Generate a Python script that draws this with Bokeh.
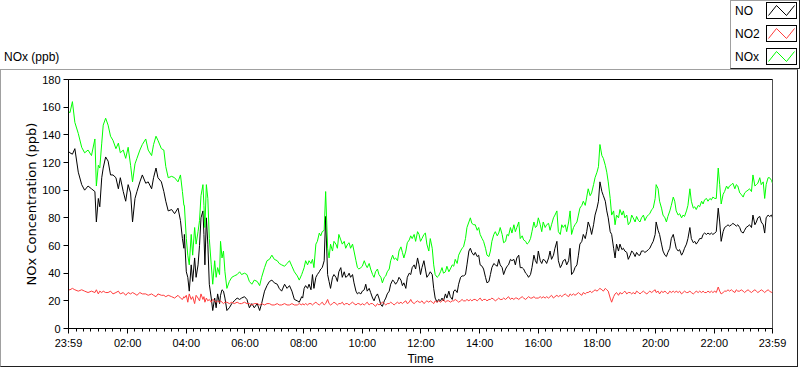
from bokeh.plotting import figure
from bokeh.layouts import column
from bokeh.models import FixedTicker, Span, Div
from bokeh.embed import file_html
from bokeh.resources import INLINE

# ---------------- data (minutes after midnight; -1 = 23:59 previous day) ----------------
minutes = [
    -1, 2, 7, 12, 19, 26, 32, 39, 46, 53, 56, 60, 63, 67, 70, 75, 80, 85, 90, 96,
    101, 105, 111, 116, 121, 126, 130, 135, 139, 145, 150, 157, 162, 169, 173, 178, 182, 189, 194, 198,
    203, 210, 216, 223, 228, 232, 235,
    236, 240, 243, 246, 250, 253, 257, 260, 264, 267, 270, 274, 276, 278, 281, 284, 287, 291, 294, 298,
    301, 304, 308, 310, 313, 316, 319, 323, 328, 333, 338, 344, 349, 353, 359, 364, 369, 374, 379, 385,
    390, 394, 400, 405, 410, 415, 420, 426, 430, 435, 441, 446, 451, 456, 461, 467, 471, 476,
    478, 481, 484, 488, 491, 495, 498, 501, 505, 508, 512, 515, 518, 522, 525, 529, 532, 535, 539, 542,
    546, 549, 552, 556, 559, 563, 566, 570, 573, 576, 580, 583, 587, 590, 593, 597, 600, 604, 607, 610,
    614, 617, 621, 624, 627, 631, 634, 638, 641, 645, 648, 651, 655, 658, 662, 665, 668, 672, 675, 679,
    682, 685, 689, 692, 696, 699, 702, 706, 709, 713, 716,
    719, 722, 726, 729, 732, 736, 739, 743, 746, 749, 753, 756, 760, 763, 766, 770, 773, 777, 780, 784,
    787, 790, 794, 797, 801, 804, 807, 811, 814, 818, 821, 824, 828, 831, 835, 838, 841, 845, 848, 852,
    855, 859, 862, 865, 869, 872, 876, 879, 882, 886, 889, 893, 896, 899, 903, 906, 910, 913, 916, 920,
    923, 927, 930, 934, 937, 940, 944, 947, 951, 954, 957,
    960, 964, 967, 970, 974, 977, 981, 984, 987, 991, 994, 998, 1001, 1005, 1008, 1011, 1015, 1018, 1022, 1025,
    1028, 1032, 1035, 1039, 1042, 1045, 1049, 1052, 1056, 1059, 1062, 1066, 1069, 1073, 1076, 1080, 1083, 1086, 1090, 1093,
    1097, 1100, 1103, 1107, 1110, 1114, 1117, 1120, 1124, 1127, 1131, 1134, 1137, 1141, 1144, 1148, 1151, 1154, 1158, 1161,
    1165, 1168, 1171, 1175, 1178, 1182, 1185, 1188, 1192, 1195, 1199,
    1201, 1205, 1208, 1212, 1215, 1219, 1222, 1225, 1229, 1232, 1236, 1239, 1242, 1246, 1249, 1253, 1256, 1259, 1263, 1266,
    1270, 1273, 1277, 1280, 1283, 1287, 1290, 1294, 1297, 1300, 1304, 1307, 1311, 1314, 1317, 1321, 1324, 1328, 1331, 1334,
    1338, 1341, 1345, 1348, 1351, 1355, 1358, 1362, 1365, 1368, 1372, 1375, 1379, 1382, 1385, 1389, 1392, 1396, 1399, 1403,
    1406, 1409, 1413, 1416, 1420, 1423, 1426, 1430, 1433, 1437, 1439,
]

no_ppb = [
    128, 127, 126, 130, 113, 104, 100, 103, 101, 99, 77, 94, 88, 109, 116, 124, 121, 111, 111, 109,
    101, 109, 99, 92, 104, 98, 77, 94, 99, 106, 111, 105, 106, 101, 109, 116, 109, 106, 99, 92,
    85, 86, 83, 87, 78, 65, 58,
    68, 41, 37, 27, 46, 34, 51, 37, 46, 60, 80, 85, 68, 46, 80, 61, 32, 22, 13, 22,
    15, 25, 18, 24, 28, 27, 22, 13, 15, 18, 20, 22, 21, 22, 23, 21, 15, 18, 15, 18,
    13, 18, 27, 31, 34, 35, 33, 32, 29, 27, 32, 29, 31, 27, 21, 20, 19, 23,
    22, 29, 31, 29, 32, 28, 39, 29, 37, 39, 41, 43, 44, 49, 81, 39, 34, 29, 37, 39,
    37, 34, 41, 44, 37, 41, 37, 38, 40, 37, 39, 33, 27, 25, 26, 25, 27, 28, 32, 27,
    29, 26, 22, 20, 23, 25, 22, 17, 16, 20, 22, 25, 27, 32, 35, 34, 32, 34, 37, 35,
    31, 33, 29, 37, 40, 39, 44, 46, 43, 51, 46,
    39, 44, 49, 43, 37, 39, 41, 39, 29, 22, 19, 21, 20, 22, 20, 25, 22, 27, 23, 21,
    27, 28, 26, 32, 37, 38, 38, 39, 46, 56, 58, 55, 53, 55, 52, 53, 46, 45, 43, 37,
    33, 34, 39, 44, 47, 46, 45, 50, 46, 44, 39, 43, 45, 46, 50, 49, 50, 46, 51, 53,
    44, 44, 43, 40, 39, 37, 39, 44, 53, 49, 47,
    56, 49, 47, 50, 49, 47, 51, 56, 50, 53, 58, 63, 49, 44, 46, 49, 50, 46, 49, 58,
    39, 41, 44, 46, 53, 61, 63, 68, 65, 70, 77, 73, 68, 75, 82, 87, 92, 106, 99, 96,
    92, 85, 80, 70, 68, 58, 51, 61, 56, 61, 57, 58, 56, 55, 50, 53, 56, 55, 52, 55,
    53, 53, 56, 56, 55, 56, 57, 58, 61, 63, 68,
    77, 71, 68, 61, 56, 53, 52, 55, 58, 65, 68, 63, 58, 56, 57, 53, 55, 58, 61, 65,
    73, 65, 62, 63, 61, 63, 65, 65, 68, 69, 68, 69, 68, 69, 68, 69, 70, 87, 77, 63,
    70, 73, 74, 75, 74, 75, 76, 75, 74, 75, 73, 70, 69, 71, 73, 74, 75, 73, 82, 75,
    77, 80, 81, 77, 75, 69, 80, 82, 81, 82, 80,
]

no2_ppb = [
    28, 28, 29, 28, 27, 28, 27, 26, 27, 26, 28, 25, 27, 26, 27, 26, 26, 27, 25, 26,
    27, 25, 26, 24, 26, 25, 26, 25, 24, 26, 25, 25, 24, 25, 24, 23, 25, 24, 24, 23,
    24, 23, 22, 24, 22, 21, 23,
    22, 24, 19, 25, 21, 23, 18, 24, 22, 20, 25, 21, 23, 19, 22, 20, 21, 19, 21, 20,
    19, 20, 19, 20, 19, 18, 19, 19, 18, 19, 18, 19, 18, 18, 19, 18, 18, 17, 18, 18,
    17, 18, 17, 18, 18, 17, 17, 18, 17, 17, 18, 17, 17, 18, 17, 17, 18, 17,
    18, 17, 18, 17, 18, 18, 17, 18, 19, 18, 17, 18, 19, 17, 18, 21, 18, 17, 18, 19,
    18, 17, 18, 18, 19, 17, 18, 18, 17, 18, 19, 18, 17, 18, 18, 17, 18, 17, 18, 19,
    17, 18, 18, 17, 16, 18, 17, 18, 19, 18, 17, 18, 18, 19, 18, 17, 18, 19, 18, 19,
    18, 19, 20, 18, 19, 21, 19, 18, 19, 20, 19,
    19, 20, 18, 19, 20, 19, 20, 19, 18, 20, 19, 20, 19, 20, 21, 19, 20, 20, 19, 20,
    20, 21, 20, 19, 20, 21, 20, 20, 21, 20, 21, 20, 21, 21, 20, 21, 22, 20, 21, 21,
    20, 21, 21, 22, 21, 20, 21, 22, 21, 21, 22, 21, 22, 23, 21, 22, 21, 22, 22, 21,
    22, 23, 22, 21, 22, 23, 22, 22, 23, 22, 22,
    22, 23, 22, 23, 22, 23, 22, 23, 24, 22, 23, 24, 23, 24, 23, 24, 25, 24, 23, 25,
    24, 25, 24, 25, 26, 25, 24, 26, 25, 26, 26, 27, 26, 27, 28, 27, 28, 29, 28, 27,
    29, 28, 27, 22, 19, 23, 25, 26, 24, 26, 25, 26, 27, 25, 26, 26, 25, 26, 25, 27,
    26, 25, 26, 27, 26, 25, 26, 27, 26, 27, 28,
    26, 27, 25, 27, 26, 27, 26, 25, 27, 26, 27, 26, 27, 26, 27, 25, 26, 27, 26, 26,
    27, 26, 25, 26, 27, 26, 27, 26, 27, 26, 26, 27, 26, 27, 26, 27, 26, 30, 27, 25,
    26, 27, 27, 28, 27, 28, 27, 26, 28, 27, 27, 28, 27, 26, 27, 28, 27, 26, 27, 28,
    27, 26, 27, 28, 27, 26, 27, 28, 27, 26, 27,
]

nox_ppb = [
    157, 156, 164, 149, 141, 131, 127, 129, 125, 137, 103, 118, 116, 134, 147, 152, 147, 139, 136, 130,
    134, 127, 129, 123, 131, 118, 106, 119, 123, 129, 133, 137, 129, 125, 133, 139, 136, 130, 129, 117,
    109, 110, 109, 106, 111, 99, 89,
    89, 65, 53, 46, 68, 53, 73, 61, 70, 78, 96, 104, 89, 73, 104, 94, 65, 46, 32, 49,
    37, 44, 39, 63, 51, 56, 41, 29, 34, 37, 38, 39, 41, 39, 40, 39, 34, 32, 35, 34,
    31, 37, 44, 49, 50, 53, 50, 49, 47, 46, 45, 47, 49, 45, 41, 38, 35, 39,
    41, 44, 49, 46, 49, 47, 50, 44, 61, 63, 69, 67, 70, 71, 99, 58, 51, 61, 56, 63,
    61, 58, 68, 64, 61, 63, 58, 61, 62, 58, 61, 56, 49, 44, 43, 44, 45, 49, 46, 44,
    47, 43, 39, 37, 41, 43, 39, 37, 33, 37, 38, 41, 43, 49, 53, 50, 51, 49, 56, 59,
    55, 51, 56, 62, 64, 67, 65, 68, 63, 70, 68,
    63, 65, 68, 69, 61, 56, 65, 58, 46, 39, 37, 38, 41, 44, 40, 41, 45, 41, 43, 46,
    45, 50, 47, 53, 56, 58, 59, 65, 73, 77, 80, 76, 75, 75, 71, 73, 68, 65, 63, 58,
    53, 52, 56, 63, 68, 70, 67, 69, 73, 68, 62, 63, 68, 67, 73, 69, 75, 70, 73, 77,
    65, 67, 64, 63, 61, 62, 65, 70, 77, 73, 74,
    80, 75, 70, 77, 73, 75, 76, 71, 75, 80, 82, 85, 70, 68, 75, 73, 75, 70, 77, 85,
    68, 73, 75, 77, 82, 87, 89, 92, 89, 95, 101, 96, 98, 104, 109, 113, 117, 133, 125, 123,
    118, 113, 106, 94, 82, 85, 75, 82, 80, 86, 82, 85, 80, 82, 75, 77, 82, 80, 77, 81,
    78, 77, 80, 82, 78, 81, 82, 83, 86, 87, 94,
    104, 101, 92, 87, 82, 80, 77, 81, 85, 89, 95, 92, 85, 82, 83, 80, 82, 81, 85, 89,
    101, 92, 87, 88, 86, 89, 88, 92, 90, 93, 94, 92, 94, 93, 95, 94, 94, 116, 104, 90,
    97, 99, 103, 101, 103, 104, 105, 101, 104, 103, 98, 97, 95, 98, 99, 100, 101, 99, 111, 103,
    104, 105, 109, 104, 106, 94, 104, 109, 109, 107, 105,
]

series_names = ["NO", "NO2", "NOx"]
series_colors = ["#000000", "#ff3c3c", "#00ff00"]
series_values = [no_ppb, no2_ppb, nox_ppb]

x_tick_minutes = [-1, 120, 240, 360, 480, 600, 720, 840, 960, 1080, 1200, 1320, 1439]
x_tick_labels = ["23:59", "02:00", "04:00", "06:00", "08:00", "10:00", "12:00",
                 "14:00", "16:00", "18:00", "20:00", "22:00", "23:59"]
y_ticks = [0, 20, 40, 60, 80, 100, 120, 140, 160, 180]

chart_title = "NOx (ppb)"
x_title = "Time"
y_title = "NOx Concentration (ppb)"

FONT = "Liberation Sans"
GREY = "#a0a0a0"
DARK = "#202020"

# ---------------- header strip (title + legend) as inline SVG ----------------
parts = [
    '<svg xmlns="http://www.w3.org/2000/svg" width="800" height="69" '
    'style="display:block" font-family="Liberation Sans" font-size="12px">',
    '<rect x="0" y="0" width="800" height="69" fill="white"/>',
    '<text x="4" y="61" fill="black">%s</text>' % chart_title,
    '<rect x="730.5" y="0.5" width="69" height="68" fill="white" stroke="%s" stroke-width="1"/>' % GREY,
    '<polyline points="730.5,68.5 799.5,68.5 799.5,0" fill="none" stroke="%s" stroke-width="1"/>' % DARK,
]
row_tops = [2.5, 25.5, 48.5]
for name, color, top in zip(series_names, series_colors, row_tops):
    parts.append('<text x="735" y="%.1f" fill="black">%s</text>' % (top + 12.5, name))
    parts.append('<rect x="766.5" y="%.1f" width="30" height="16" fill="white" stroke="black" stroke-width="1"/>' % top)
    lo, hi = top + 13, top + 3
    parts.append('<polyline points="768.5,%.1f 776.5,%.1f 786.5,%.1f 794.5,%.1f" fill="none" stroke="%s" stroke-width="1"/>'
                 % (lo, hi, lo, hi, color))
parts.append('</svg>')
header = Div(text="".join(parts), width=800, height=69, margin=0)

# ---------------- main chart ----------------
p = figure(width=798, height=298, output_backend="svg", toolbar_location=None,
           x_range=(-1, 1439), y_range=(0, 180),
           min_border_left=67, min_border_right=27, min_border_top=9, min_border_bottom=39)
p.styles = {"border-top": "1px solid " + GREY, "border-left": "1px solid " + GREY,
            "border-bottom": "1px solid " + DARK, "border-right": "1px solid " + DARK}
p.margin = 0
p.background_fill_color = "white"
p.border_fill_color = "white"
p.outline_line_color = "black"
p.grid.visible = False

for name, color, vals in zip(series_names, series_colors, series_values):
    p.line(minutes, vals, line_color=color, line_width=1)

minor = [15 * k for k in range(1, 96) if k % 8 != 0]
p.xaxis.ticker = FixedTicker(ticks=x_tick_minutes, minor_ticks=minor)
p.xaxis.major_label_overrides = dict(zip(x_tick_minutes, x_tick_labels))
p.yaxis.ticker = FixedTicker(ticks=y_ticks, minor_ticks=[])

for ax in (p.xaxis[0], p.yaxis[0]):
    ax.axis_line_color = "black"
    ax.major_tick_line_color = "black"
    ax.minor_tick_line_color = "black"
    ax.major_tick_in = 0
    ax.major_tick_out = 5
    ax.minor_tick_in = 0
    ax.major_label_text_font = FONT
    ax.major_label_text_font_size = "11px"
    ax.major_label_text_color = "black"
    ax.major_label_standoff = 3
    ax.axis_label_text_font_style = "normal"
    ax.axis_label_text_color = "black"
p.xaxis.minor_tick_out = 3
p.yaxis.minor_tick_out = 0
p.xaxis.axis_label = x_title
p.xaxis.axis_label_text_font = FONT
p.xaxis.axis_label_text_font_size = "12px"
p.xaxis.axis_label_standoff = 0
p.yaxis.axis_label = y_title
p.yaxis.axis_label_text_font = "DejaVu Sans"
p.yaxis.axis_label_text_font_size = "13px"
p.yaxis.axis_label_standoff = 0

p.add_layout(Span(location=1439, dimension="height", line_color=GREY, line_width=1))

layout = column(header, p, spacing=0)
open("out.html", "w").write(file_html(layout, INLINE))
